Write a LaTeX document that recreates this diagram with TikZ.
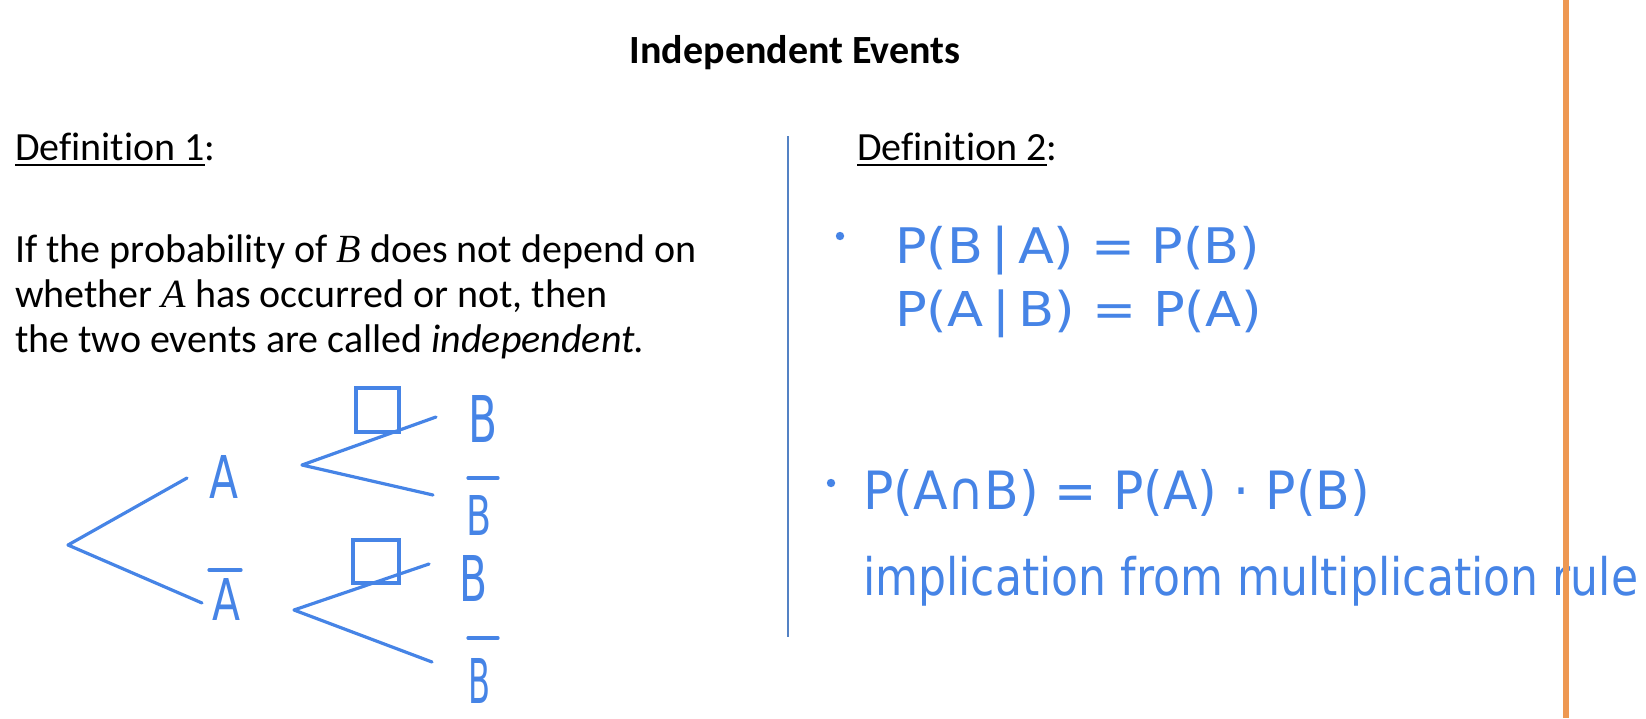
\documentclass[tikz,border=0pt]{standalone}
\usepackage{fontspec}
\setmainfont{Carlito}[Ligatures=NoCommon]
\newfontfamily\mserif{Liberation Serif}
\newfontfamily\hand{DejaVu Sans}
\definecolor{pen}{RGB}{70,132,230}
\definecolor{divider}{RGB}{84,130,196}
\definecolor{margin}{RGB}{238,152,82}
\newcommand\ulword[1]{\setbox0\hbox{#1}\rlap{\rule[-6pt]{\wd0}{2.2pt}}\box0}
\newcommand\mvar[1]{{\mserif\itshape #1}}
\tikzset{
  body/.style={anchor=base west, inner sep=0pt, outer sep=0pt, font=\fontsize{40}{48}\selectfont},
  pentext/.style={anchor=north west, inner sep=0pt, outer sep=0pt, text=pen},
  penline/.style={draw=pen, line width=3.2pt, line cap=round, line join=round},
  boxmark/.style={draw=pen, line width=3.2pt, inner sep=0pt, outer sep=0pt, anchor=north west},
}
\begin{document}
\begin{tikzpicture}[x=1pt,y=-1pt]
\useasboundingbox (0,0) rectangle (1646,718);
% title
\node[anchor=base, inner sep=0pt, font=\fontsize{40}{48}\selectfont\bfseries] (title) at (795,63) {Independent Events};
% left column
\node[body] (def1) at (15,160) {\ulword{Definition 1}:};
\node[body] (l1) at (15,262) {If the probability of \mvar{B} does not depend on};
\node[body] (l2) at (15,307) {whether \mvar{A} has occurred or not, then};
\node[body] (l3) at (15,352) {the two events are called \textit{independent.}};
% right column heading
\node[body] (def2) at (857,160) {\ulword{Definition 2}:};
% divider
\coordinate (dtop) at (788,136);
\coordinate (dbot) at (788,637);
\draw[divider, line width=2pt] (dtop) -- (dbot);
% tree
\coordinate (root) at (68,545);
\coordinate (aend) at (187,478);
\coordinate (abend) at (202,603);
\coordinate (v1) at (302,465);
\coordinate (u1) at (436,417);
\coordinate (w1) at (433,495);
\coordinate (v2) at (294,610);
\coordinate (u2) at (429,564);
\coordinate (w2) at (432,662);
\draw[penline] (aend) -- (root) -- (abend);
\draw[penline] (u1) -- (v1) -- (w1);
\draw[penline] (u2) -- (v2) -- (w2);
\node[boxmark, minimum width=43pt, minimum height=44pt] (sq1) at (356,388) {};
\node[boxmark, minimum width=46pt, minimum height=43pt] (sq2) at (353,540) {};
\node[pentext] (A) at (209,455) {\resizebox{29pt}{43pt}{\hand A}};
\node[pentext] (Ab) at (212,578) {\resizebox{28pt}{42pt}{\hand A}};
\node[pentext] (B1) at (468,395) {\resizebox{29pt}{47pt}{\hand B}};
\node[pentext] (Bb1) at (466,495) {\resizebox{25pt}{40pt}{\hand B}};
\node[pentext] (B2) at (459,555) {\resizebox{28pt}{46pt}{\hand B}};
\node[pentext] (Bb2) at (468,658) {\resizebox{22pt}{45pt}{\hand B}};
\draw[penline] ([xshift=-3pt,yshift=8pt]Ab.north west) -- ([xshift=1pt,yshift=8pt]Ab.north east);
\draw[penline] ([xshift=2pt,yshift=17pt]Bb1.north west) -- ([xshift=7pt,yshift=17pt]Bb1.north east);
\draw[penline] ([yshift=20pt]Bb2.north west) -- ([xshift=8pt,yshift=20pt]Bb2.north east);
% right column handwriting
\fill[pen] (840,236) circle (4.2pt);
\node[pentext] (e1) at (895,226) {\resizebox*{365pt}{49pt}{\hand P(B\,|\,A) = P(B)}};
\node[pentext] (e2) at (895,290) {\resizebox*{367pt}{48pt}{\hand P(A\,|\,B) = P(A)}};
\fill[pen] (831,483) circle (4.2pt);
\node[pentext] (e3) at (863,469) {\resizebox*{507pt}{47pt}{\hand P(A∩B) = P(A) · P(B)}};
\node[pentext] (e4) at (863,556) {\resizebox*{775pt}{50pt}{\hand implication from multiplication rule}};
% orange margin line
\coordinate (mtop) at (1566,0);
\coordinate (mbot) at (1566,718);
\draw[margin, line width=6pt] (mtop) -- (mbot);
\end{tikzpicture}
\end{document}
